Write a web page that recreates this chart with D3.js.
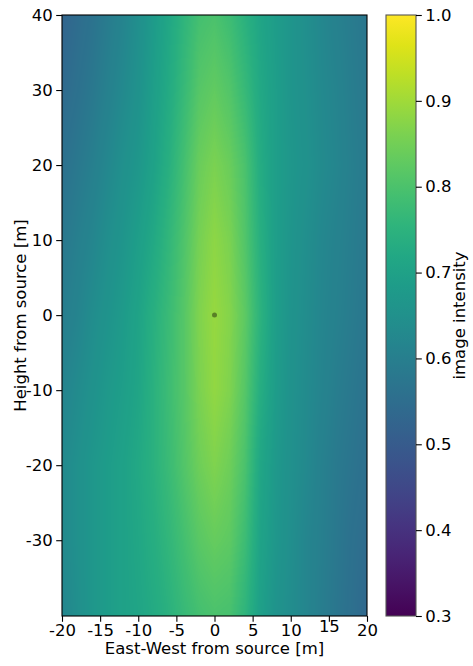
<!DOCTYPE html>
<html>
<head>
<meta charset="utf-8">
<script src="https://cdn.jsdelivr.net/npm/d3@7"></script>
<style>
  body { margin: 0; background: #fff; }
  text { font-family: "DejaVu Sans", sans-serif; fill: #000; }
  .axis line { stroke: #000; stroke-width: 1.1; }
</style>
</head>
<body>
<div id="chart"></div>
<script>
// grid sample positions (m)
var xs = [-20, -18, -16, -14, -12, -10, -8, -6, -4, -2, 0, 2, 4, 6, 8, 10, 12, 14, 16, 18, 20];
var ys = [40, 30, 20, 10, 0, -10, -20, -30, -40];

// image intensity, one row per ys value
var row40  = [0.525, 0.545, 0.565, 0.59, 0.615, 0.645, 0.68, 0.715, 0.755, 0.79, 0.80, 0.78, 0.745, 0.71, 0.685, 0.665, 0.645, 0.625, 0.605, 0.59, 0.575];
var row30  = [0.54, 0.56, 0.58, 0.605, 0.63, 0.655, 0.69, 0.725, 0.77, 0.815, 0.83, 0.81, 0.77, 0.72, 0.69, 0.665, 0.65, 0.63, 0.615, 0.595, 0.58];
var row20  = [0.56, 0.58, 0.60, 0.625, 0.65, 0.67, 0.70, 0.74, 0.79, 0.84, 0.86, 0.84, 0.80, 0.73, 0.69, 0.67, 0.655, 0.635, 0.62, 0.60, 0.585];
var row10  = [0.58, 0.60, 0.62, 0.645, 0.665, 0.69, 0.72, 0.76, 0.805, 0.855, 0.88, 0.86, 0.81, 0.74, 0.69, 0.665, 0.645, 0.625, 0.61, 0.595, 0.58];
var row0   = [0.595, 0.615, 0.64, 0.66, 0.68, 0.705, 0.74, 0.775, 0.815, 0.865, 0.89, 0.87, 0.825, 0.75, 0.69, 0.66, 0.64, 0.62, 0.605, 0.59, 0.575];
var rowM10 = [0.615, 0.635, 0.655, 0.675, 0.69, 0.71, 0.745, 0.78, 0.815, 0.86, 0.885, 0.865, 0.815, 0.735, 0.685, 0.655, 0.635, 0.615, 0.595, 0.58, 0.565];
var rowM20 = [0.63, 0.65, 0.67, 0.685, 0.70, 0.72, 0.745, 0.775, 0.81, 0.845, 0.865, 0.845, 0.80, 0.715, 0.675, 0.65, 0.63, 0.605, 0.585, 0.57, 0.555];
var rowM30 = [0.63, 0.65, 0.67, 0.685, 0.70, 0.715, 0.735, 0.76, 0.79, 0.82, 0.835, 0.825, 0.78, 0.705, 0.67, 0.645, 0.62, 0.60, 0.58, 0.56, 0.545];
var rowM40 = [0.62, 0.645, 0.67, 0.685, 0.70, 0.71, 0.725, 0.745, 0.77, 0.79, 0.80, 0.795, 0.755, 0.695, 0.66, 0.64, 0.62, 0.595, 0.575, 0.555, 0.535];
var grid = [row40, row30, row20, row10, row0, rowM10, rowM20, rowM30, rowM40];

var source = [{x: 0, y: 0}];
var xTicks = [-20, -15, -10, -5, 0, 5, 10, 15, 20];
var yTicks = [-30, -20, -10, 0, 10, 20, 30, 40];
var cTicks = [0.3, 0.4, 0.5, 0.6, 0.7, 0.8, 0.9, 1.0];

var w = 473, h = 666;
var margin = {top: 15, left: 62};
var width = 305, height = 601;
var fs = "16.5px";

var svg = d3.select("#chart").append("svg")
    .attr("width", w)
    .attr("height", h);
var defs = svg.append("defs");

var x = d3.scaleLinear().domain([-20, 20]).range([0, width]);
var y = d3.scaleLinear().domain([-40.1, 40]).range([height, 0]);
var color = d3.scaleSequential(d3.interpolateViridis).domain([0.3, 1.0]);

var chart = svg.append("g")
    .attr("transform", "translate(" + margin.left + "," + margin.top + ")");

// heatmap rendered pixel by pixel (bilinear shading between the samples)
var gi = d3.scaleLinear().domain(d3.extent(xs)).range([0, xs.length - 1]).clamp(true);
var gj = d3.scaleLinear().domain([ys[0], ys[ys.length - 1]]).range([0, ys.length - 1]).clamp(true);
function valueAt(px, py){
    var fi = gi(px), fj = gj(py);
    var i0 = Math.min(Math.floor(fi), xs.length - 2), j0 = Math.min(Math.floor(fj), ys.length - 2);
    var tx = fi - i0, ty = fj - j0;
    var a = grid[j0][i0] * (1 - tx) + grid[j0][i0 + 1] * tx;
    var b = grid[j0 + 1][i0] * (1 - tx) + grid[j0 + 1][i0 + 1] * tx;
    return a * (1 - ty) + b * ty;
}
var canvas = document.createElement("canvas");
canvas.width = width;
canvas.height = height;
var ctx = canvas.getContext("2d");
var img = ctx.createImageData(width, height);
for (var r = 0; r < height; r++){
    for (var c = 0; c < width; c++){
        var col = d3.rgb(color(valueAt(x.invert(c + 0.5), y.invert(r + 0.5))));
        var k = (r * width + c) * 4;
        img.data[k] = col.r; img.data[k + 1] = col.g; img.data[k + 2] = col.b; img.data[k + 3] = 255;
    }
}
ctx.putImageData(img, 0, 0);

chart.append("image")
    .attr("href", canvas.toDataURL())
    .attr("preserveAspectRatio", "none")
    .attr("width", width)
    .attr("height", height);

chart.selectAll(".src")
    .data(source)
    .enter()
    .append("circle")
    .classed("src", true)
    .attr("cx", function(d){ return x(d.x); })
    .attr("cy", function(d){ return y(d.y); })
    .attr("r", 2.5)
    .style("fill", "#000")
    .style("opacity", 0.4);

chart.append("rect")
    .attr("width", width)
    .attr("height", height)
    .style("fill", "none")
    .style("stroke", "#000")
    .style("stroke-width", 1.1);

var xAxis = d3.axisBottom(x).tickValues(xTicks).tickSize(5.8).tickPadding(2.5).tickFormat(d3.format("d"));
var yAxis = d3.axisLeft(y).tickValues(yTicks).tickSize(5.8).tickPadding(3.5).tickFormat(d3.format("d"));

var gx = chart.append("g")
    .classed("x axis", true)
    .attr("transform", "translate(0," + height + ")")
    .call(xAxis);
var gy = chart.append("g")
    .classed("y axis", true)
    .call(yAxis);
[gx, gy].forEach(function(g){
    g.select(".domain").remove();
    g.selectAll("text").style("font-size", fs);
    g.selectAll(".tick text").text(function(d){ return String(d); });
});
// the "15" label sits a little higher in the original
gx.selectAll(".tick text").filter(function(d){ return d === 15; }).attr("transform", "translate(0,-4)");

chart.append("text")
    .attr("x", width / 2)
    .attr("y", height + 38)
    .style("text-anchor", "middle")
    .style("font-size", fs)
    .text("East-West from source [m]");

chart.append("text")
    .attr("transform", "translate(-36," + (height / 2) + ") rotate(-90)")
    .style("text-anchor", "middle")
    .style("font-size", fs)
    .text("Height from source [m]");

// colorbar
var cbX = 386, cbW = 30;
var cy = d3.scaleLinear().domain([0.3, 1.0]).range([margin.top + height, margin.top]);

var grad = defs.append("linearGradient")
    .attr("id", "cbgrad")
    .attr("x1", 0).attr("y1", 1).attr("x2", 0).attr("y2", 0);
grad.selectAll("stop")
    .data(d3.range(0, 1.0001, 0.05))
    .enter()
    .append("stop")
    .attr("offset", function(d){ return d; })
    .attr("stop-color", function(d){ return d3.interpolateViridis(d); });

svg.append("rect")
    .attr("x", cbX)
    .attr("y", cy(1.0))
    .attr("width", cbW)
    .attr("height", cy(0.3) - cy(1.0))
    .style("fill", "url(#cbgrad)")
    .style("stroke", "#555")
    .style("stroke-width", 1.1);

var cAxis = d3.axisRight(cy).tickValues(cTicks).tickSize(5.8).tickPadding(3.5).tickFormat(d3.format(".1f"));
var gc = svg.append("g")
    .classed("c axis", true)
    .attr("transform", "translate(" + (cbX + cbW) + ",0)")
    .call(cAxis);
gc.select(".domain").remove();
gc.selectAll("text").style("font-size", fs);

svg.append("text")
    .attr("transform", "translate(465," + (margin.top + height / 2) + ") rotate(-90)")
    .style("text-anchor", "middle")
    .style("font-size", fs)
    .text("image intensity");
</script>
</body>
</html>
